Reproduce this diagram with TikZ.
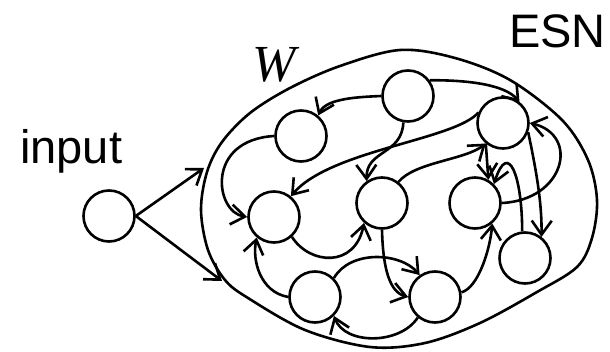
\documentclass[tikz,border=0pt]{standalone}
\usepackage{fontspec}
\setmainfont{Liberation Sans}
\newfontfamily\wserif{Liberation Serif}
\usetikzlibrary{arrows.meta}
\begin{document}
\begin{tikzpicture}[x=1pt,y=1pt,
  lw/.style={line width=2.6pt},
  neuron/.style={circle,draw,lw,minimum size=51pt,inner sep=0pt},
  conn/.style={lw,-{Straight Barb[length=14pt,width=20pt]}},
  lbl/.style={inner sep=0pt,anchor=base west}]
\useasboundingbox (0,0) rectangle (610,-352);
% reservoir boundary
\draw[lw] plot[smooth cycle,tension=0.55] coordinates {
 (201,-210) (207,-172) (222,-142) (250,-113) (290,-88) (340,-66) (400,-50)
 (455,-58) (510,-80) (562,-120) (588,-160) (597,-200) (592,-238) (577,-267)
 (537,-292) (480,-323) (425,-343) (370,-347) (305,-330) (248,-298) (225,-280) (208,-250)};
% labels
\node[lbl,font=\fontsize{47}{50}\selectfont] (tin) at (20,-164) {input};
\node[lbl,font=\fontsize{47}{50}\selectfont] (tesn) at (509,-48) {ESN};
\node[lbl,font=\wserif\itshape\fontsize{52}{55}\selectfont] (tw) at (252,-82) {W};
% neurons
\node[neuron] (In) at (109,-216) {};
\node[neuron] (A) at (408,-96) {};
\node[neuron] (B) at (301,-136) {};
\node[neuron] (C) at (503,-123) {};
\node[neuron] (D) at (274,-217) {};
\node[neuron] (E) at (382,-203) {};
\node[neuron] (F) at (475,-203) {};
\node[neuron] (G) at (525,-258) {};
\node[neuron] (H) at (315,-297) {};
\node[neuron] (I) at (435,-297) {};
\coordinate (w1) at (204,-168);
\coordinate (w2) at (222,-281);
% input connections
\draw[conn] (In.0) -- (w1);
\draw[conn] (In.0) -- (w2);
% reservoir connections
\draw[conn] (A.180) .. controls (360,-97) and (326,-98) .. (B.50);
\draw[conn] (B.180) .. controls (205,-140) and (215,-212) .. (D.180);
\draw[conn] (C.157) .. controls (455,-140) and (330,-150) .. (D.51);
\draw[conn] (A.36) .. controls (470,-80) and (505,-85) .. (C.52);
\draw[conn] (F.0) .. controls (565,-200) and (580,-135) .. (C.0);
\draw[conn] (C.-20) .. controls (535,-165) and (542,-200) .. (G.52);
\draw[conn] (C.-130) -- (F.60);
\draw[conn] (A.-100) .. controls (402,-155) and (366,-150) .. (E.125);
\draw[conn] (E.52) .. controls (415,-162) and (465,-160) .. (C.-130);
\draw[conn] (E.-90) .. controls (383,-270) and (390,-292) .. (I.180);
\draw[conn] (H.45) .. controls (350,-250) and (400,-252) .. (I.125);
\draw[conn] (I.-130) .. controls (400,-345) and (345,-345) .. (H.-45);
\draw[conn] (H.180) .. controls (260,-292) and (252,-260) .. (D.-130);
\draw[conn] (D.-48) .. controls (310,-265) and (355,-268) .. (E.-132);
\draw[conn] (I.10) .. controls (478,-288) and (490,-250) .. (F.-50);
\draw[conn] (G.96) .. controls (522,-175) and (508,-140) .. (F.45);
\end{tikzpicture}
\end{document}
